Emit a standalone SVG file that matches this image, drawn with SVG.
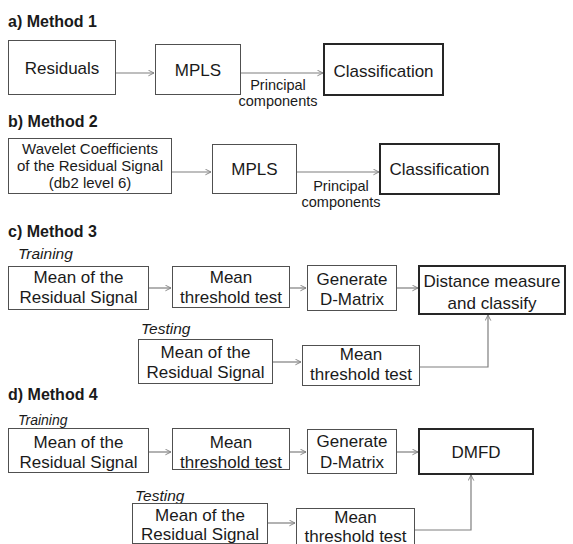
<svg xmlns="http://www.w3.org/2000/svg" width="573" height="544" viewBox="0 0 573 544">
<style>
text{font-family:"Liberation Sans",Arial,sans-serif;fill:#1a1a1a}
.t{font-size:16px;font-weight:bold}
.i{font-size:15.5px;font-style:italic}
.b{font-size:17px;text-anchor:middle}
.w{font-size:15px;text-anchor:middle}
.l{font-size:14.5px;text-anchor:middle}
.box{fill:#fff;stroke:#505050;stroke-width:1}
.fin{fill:#fff;stroke:#262626;stroke-width:2}
.c{fill:none;stroke:#7f7f7f;stroke-width:1.2;marker-end:url(#a)}
</style>
<defs>
<marker id="a" viewBox="0 0 10 10" refX="9" refY="5" markerWidth="7" markerHeight="7" markerUnits="userSpaceOnUse" orient="auto">
<path d="M1,1 L9,5 L1,9" fill="none" stroke="#7f7f7f" stroke-width="1.3"/>
</marker>
</defs>
<rect width="573" height="544" fill="#fff"/>

<text class="t" x="8" y="26.5">a) Method 1</text>
<text class="t" x="8" y="126.5">b) Method 2</text>
<text class="t" x="8" y="236.5">c) Method 3</text>
<text class="t" x="8" y="400">d) Method 4</text>
<text class="i" x="18" y="259">Training</text>
<text class="i" x="141" y="334">Testing</text>
<text class="i" x="18" y="425" style="font-size:14px">Training</text>
<text class="i" x="135" y="501">Testing</text>

<g id="connectors">
<line class="c" x1="116" y1="73" x2="154" y2="73"/>
<line class="c" x1="240" y1="73" x2="323" y2="73"/>
<text class="l" x="278" y="90">Principal</text>
<text class="l" x="278" y="106">components</text>
<line class="c" x1="172" y1="172" x2="211" y2="172"/>
<line class="c" x1="297" y1="172" x2="379" y2="172"/>
<text class="l" x="341" y="191">Principal</text>
<text class="l" x="341" y="207">components</text>
<line class="c" x1="149" y1="288" x2="171" y2="288"/>
<line class="c" x1="290" y1="288" x2="306" y2="288"/>
<line class="c" x1="397" y1="288" x2="418" y2="288"/>
<line class="c" x1="273" y1="362" x2="301" y2="362"/>
<polyline class="c" points="420,367 488,367 488,315"/>
<line class="c" x1="149" y1="452" x2="171" y2="452"/>
<line class="c" x1="290" y1="452" x2="306" y2="452"/>
<line class="c" x1="397" y1="452" x2="418" y2="452"/>
<line class="c" x1="268" y1="523" x2="295" y2="523"/>
<polyline class="c" points="415,530 471,530 471,475"/>
</g>

<g id="m1-residuals"><rect class="box" x="8.5" y="40.5" width="107" height="54"/><text class="b" x="62" y="74">Residuals</text></g>
<g id="m1-mpls"><rect class="box" x="155.5" y="44.5" width="85" height="50"/><text class="b" x="198" y="76">MPLS</text></g>
<g id="m1-class"><rect class="fin" x="324" y="44" width="119" height="51"/><text class="b" x="383.5" y="77">Classification</text></g>

<g id="m2-wavelet"><rect class="box" x="8.5" y="138.5" width="163" height="55"/><text class="w" x="90" y="154">Wavelet Coefficients</text><text class="w" x="90" y="171">of the Residual Signal</text><text class="w" x="90" y="188">(db2 level 6)</text></g>
<g id="m2-mpls"><rect class="box" x="212.5" y="144.5" width="84" height="49"/><text class="b" x="254.5" y="175">MPLS</text></g>
<g id="m2-class"><rect class="fin" x="380" y="144" width="119" height="50"/><text class="b" x="439.5" y="175">Classification</text></g>

<g id="m3-mean"><rect class="box" x="8.5" y="266.5" width="140" height="43"/><text class="b" x="78.5" y="283">Mean of the</text><text class="b" x="78.5" y="303">Residual Signal</text></g>
<g id="m3-thr"><rect class="box" x="172.5" y="266.5" width="117" height="41"/><text class="b" x="231" y="283">Mean</text><text class="b" x="231" y="303">threshold test</text></g>
<g id="m3-dmat"><rect class="box" x="307.5" y="265.5" width="89" height="45"/><text class="b" x="352" y="285">Generate</text><text class="b" x="352" y="305">D-Matrix</text></g>
<g id="m3-dist"><rect class="fin" x="419" y="266" width="146" height="48"/><text class="b" x="492" y="287">Distance measure</text><text class="b" x="492" y="308.5">and classify</text></g>
<g id="m3-tmean"><rect class="box" x="138.5" y="339.5" width="134" height="44"/><text class="b" x="205.5" y="358">Mean of the</text><text class="b" x="205.5" y="378">Residual Signal</text></g>
<g id="m3-tthr"><rect class="box" x="302.5" y="345.5" width="117" height="40"/><text class="b" x="361" y="360">Mean</text><text class="b" x="361" y="380">threshold test</text></g>

<g id="m4-mean"><rect class="box" x="8.5" y="428.5" width="140" height="44"/><text class="b" x="78.5" y="448">Mean of the</text><text class="b" x="78.5" y="468">Residual Signal</text></g>
<g id="m4-thr"><rect class="box" x="172.5" y="428.5" width="117" height="41"/><text class="b" x="231" y="448">Mean</text><text class="b" x="231" y="468">threshold test</text></g>
<g id="m4-dmat"><rect class="box" x="307.5" y="429.5" width="89" height="44"/><text class="b" x="352" y="447">Generate</text><text class="b" x="352" y="468">D-Matrix</text></g>
<g id="m4-dmfd"><rect class="fin" x="419" y="429" width="114" height="45"/><text class="b" x="476" y="458">DMFD</text></g>
<g id="m4-tmean"><rect class="box" x="132.5" y="503.5" width="135" height="40"/><text class="b" x="200" y="521">Mean of the</text><text class="b" x="200" y="540">Residual Signal</text></g>
<g id="m4-tthr"><rect class="box" x="296.5" y="508.5" width="118" height="37"/><text class="b" x="355.5" y="523">Mean</text><text class="b" x="355.5" y="541.5">threshold test</text></g>
</svg>
